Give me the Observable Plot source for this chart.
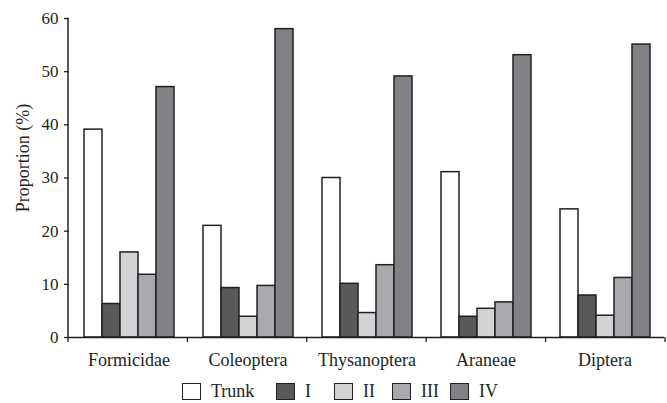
<!DOCTYPE html>
<html>
<head>
<meta charset="utf-8">
<script src="https://cdn.jsdelivr.net/npm/d3@7"></script>
<script src="https://cdn.jsdelivr.net/npm/@observablehq/plot@0.6"></script>
<style>
  html, body { margin: 0; padding: 0; background: #fff; }
  #chart { width: 667px; font-family: "Liberation Serif", "Times New Roman", serif; color: #231f20; }
  .legend { display: flex; align-items: center; height: 20px; margin-top: 5px; padding-left: 182px; font-size: 18px; }
  .legend .item { display: flex; align-items: center; width: 58px; flex: 0 0 auto; }
  .legend .item:first-child { width: 94px; }
  .legend .sw { width: 17px; height: 15px; border: 1.5px solid #231f20; margin-right: 10px; }
</style>
</head>
<body>
<div id="chart"></div>
<script>
const categories = ["Formicidae", "Coleoptera", "Thysanoptera", "Araneae", "Diptera"];
const seriesNames = ["Trunk", "I", "II", "III", "IV"];
const trunkValues = [39.1, 21.0, 30.0, 31.1, 24.1];
const iValues     = [6.3, 9.3, 10.1, 3.9, 7.9];
const iiValues    = [16.0, 3.9, 4.6, 5.4, 4.1];
const iiiValues   = [11.8, 9.7, 13.6, 6.6, 11.2];
const ivValues    = [47.1, 58.0, 49.1, 53.1, 55.1];
const yTicks = [0, 10, 20, 30, 40, 50, 60];
const seriesColors = ["#ffffff", "#58595b", "#d1d3d4", "#a7a9ac", "#808285"];

const valuesBySeries = [trunkValues, iValues, iiValues, iiiValues, ivValues];
const data = [];
categories.forEach((c, ci) => {
  seriesNames.forEach((s, si) => {
    data.push({category: c, series: s, value: valuesBySeries[si][ci]});
  });
});

const ink = "#231f20";
const mLeft = 68, mRight = 2, mTop = 18, mBottom = 39, W = 667, H = 376;
const plot = Plot.plot({
  width: W,
  height: H,
  marginLeft: mLeft,
  marginRight: mRight,
  marginTop: mTop,
  marginBottom: mBottom,
  style: {fontFamily: "'Liberation Serif', 'Times New Roman', serif", fontSize: "18px", color: ink, background: "white", overflow: "visible"},
  fx: {domain: categories, padding: 0, label: null},
  x: {domain: seriesNames, paddingInner: 0, paddingOuter: 0.745, axis: null},
  y: {domain: [0, 60], label: null},
  color: {domain: seriesNames, range: seriesColors},
  marks: [
    Plot.barY(data, {fx: "category", x: "series", y: "value", fill: "series", stroke: ink, strokeWidth: 1.5}),
    Plot.ruleY([0], {stroke: ink, strokeWidth: 1.5}),
    Plot.axisY({ticks: yTicks, tickSize: 5, tickPadding: 6, label: null, fontSize: 17, stroke: ink, strokeWidth: 1.3}),
    Plot.axisFx({anchor: "bottom", tickSize: 0, tickPadding: 16, label: null, fontSize: 18})
  ]
});

const svg = d3.select(plot);
const fx = plot.scale("fx");
const y = plot.scale("y");
const y0 = y.apply(0);
const yTop = y.apply(60);
// y axis line
svg.append("line")
  .attr("x1", mLeft).attr("x2", mLeft)
  .attr("y1", yTop).attr("y2", y0 + 0.75)
  .attr("stroke", ink).attr("stroke-width", 1.5);
// category boundary ticks
const step = (W - mLeft - mRight) / categories.length;
const bounds = d3.range(categories.length + 1).map(i => mLeft + i * step);
svg.append("g").selectAll("line").data(bounds).join("line")
  .attr("x1", d => d).attr("x2", d => d)
  .attr("y1", y0).attr("y2", y0 + 5)
  .attr("stroke", ink).attr("stroke-width", 1.3);
// y label
svg.append("text")
  .attr("transform", "translate(29,158) rotate(-90)")
  .attr("text-anchor", "middle")
  .attr("font-size", 18)
  .attr("fill", ink)
  .text("Proportion (%)");

const chart = document.getElementById("chart");
chart.appendChild(plot);

const legend = document.createElement("div");
legend.className = "legend";
seriesNames.forEach((s, i) => {
  const item = document.createElement("div");
  item.className = "item";
  const sw = document.createElement("div");
  sw.className = "sw";
  sw.style.background = seriesColors[i];
  const label = document.createElement("span");
  label.textContent = s;
  item.appendChild(sw);
  item.appendChild(label);
  legend.appendChild(item);
});
chart.appendChild(legend);
</script>
</body>
</html>
